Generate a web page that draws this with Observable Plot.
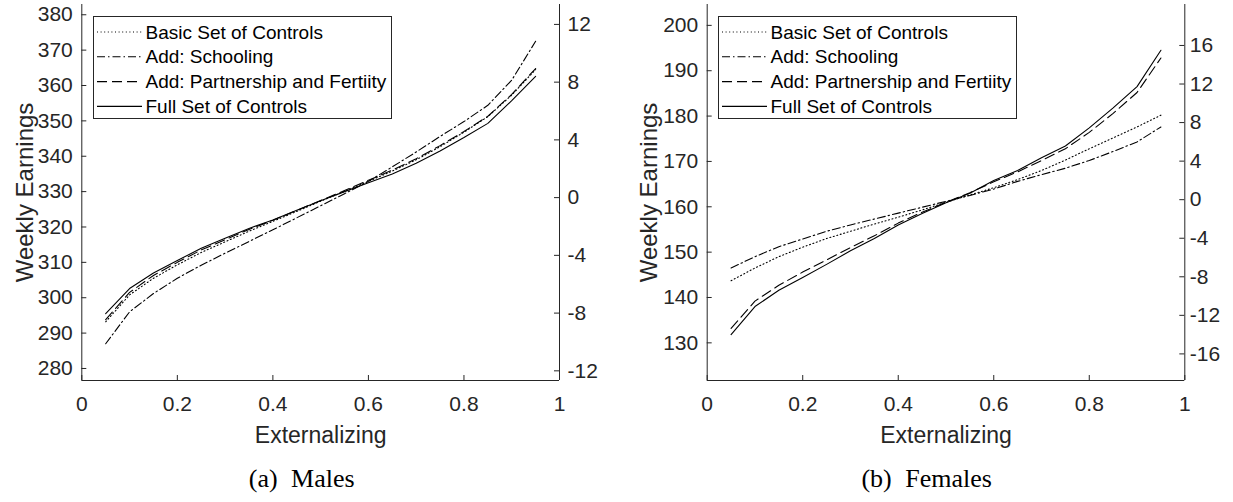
<!DOCTYPE html>
<html><head><meta charset="utf-8">
<script src="https://cdn.jsdelivr.net/npm/d3@7"></script>
<script src="https://cdn.jsdelivr.net/npm/@observablehq/plot@0.6"></script>
<style>
html,body{margin:0;padding:0;background:#fff;}
#wrap{position:relative;width:1233px;height:502px;overflow:hidden;background:#fff;}
.panel{position:absolute;top:0;}
.cap{position:absolute;top:464px;font-family:"Liberation Serif","Times New Roman",serif;font-size:26px;line-height:30px;word-spacing:7px;color:#000;white-space:nowrap;transform:translateX(-50%);}
</style></head><body><div id="wrap"></div>
<script>
// ---- data ----
const xs = [0.05,0.10,0.15,0.20,0.25,0.30,0.35,0.40,0.45,0.50,0.55,0.60,0.65,0.70,0.75,0.80,0.85,0.90,0.95];
const seriesNames = ["Basic Set of Controls","Add: Schooling","Add: Partnership and Fertiity","Full Set of Controls"];

const malesBasic       = [293.2,300.8,305.5,309.3,312.8,315.8,318.8,321.6,324.4,327.3,330.1,332.9,335.8,339.0,342.7,346.8,351.2,357.3,364.5];
const malesSchooling   = [287.0,296.0,301.2,305.5,309.2,312.6,315.9,319.2,322.6,326.0,329.4,332.9,337.0,341.2,345.6,349.8,354.4,361.5,372.5];
const malesPartnership = [293.8,301.5,306.3,310.0,313.5,316.4,319.3,321.9,324.7,327.5,330.3,333.2,336.1,339.3,343.0,347.0,351.3,357.5,364.8];
const malesFull        = [295.5,302.6,307.0,310.5,314.0,316.8,319.6,322.0,324.7,327.4,330.0,332.5,335.0,338.0,341.5,345.3,349.3,355.7,362.6];

const femalesBasic       = [143.7,146.5,149.0,151.1,153.0,154.6,156.2,157.7,159.3,161.0,162.6,164.2,166.0,168.0,170.3,172.8,175.2,177.6,180.2];
const femalesSchooling   = [146.5,149.0,151.2,152.9,154.6,156.0,157.3,158.6,159.9,161.2,162.5,163.9,165.6,167.1,168.5,170.2,172.2,174.3,177.6];
const femalesPartnership = [133.2,139.2,142.7,145.6,148.3,151.0,153.6,156.4,158.8,161.0,163.1,165.5,167.7,170.2,172.8,176.4,180.6,185.2,192.8];
const femalesFull        = [131.8,138.0,141.6,144.4,147.3,150.3,153.0,156.0,158.5,160.9,163.0,165.8,168.0,170.8,173.4,177.4,181.8,186.5,194.5];

const xTicks = [0,0.2,0.4,0.6,0.8,1];
const malesYTicks = [280,290,300,310,320,330,340,350,360,370,380];
const malesRTicks = [-12,-8,-4,0,4,8,12];
const femalesYTicks = [130,140,150,160,170,180,190,200];
const femalesRTicks = [-16,-12,-8,-4,0,4,8,12,16];

const malesYDomain = [276.6, 382.9];
const malesRDomain = [-12.67, 13.38];
const femalesYDomain = [121.7, 204.6];
const femalesRDomain = [-18.76, 20.25];

const captions = ["(a) Males", "(b) Females"];
const xLabel = "Externalizing";
const yLabel = "Weekly Earnings";

// ---- styles ----
const dashStyles = ["1,2.6", "8,3,1.5,3", "10,5", null];
const axisColor = "#262626";

function panel({yDomain, yTicks, rDomain, rTicks, values, mLeft, mRight, width, rPad, yLabelDx}) {
  const H = 440, mTop = 4, mBottom = 60;
  const plotW = width - mLeft - mRight, plotH = H - mTop - mBottom;
  const toLeft = d3.scaleLinear().domain(rDomain).range(yDomain);
  const lineMarks = values.map((vals, k) => {
    const rows = vals.map((v, i) => ({x: xs[i], y: v, s: seriesNames[k]}));
    return Plot.line(rows, {x: "x", y: "y", stroke: "#000", strokeWidth: 1.1, strokeDasharray: dashStyles[k] ?? undefined});
  });
  const rPos = rTicks.map(r => toLeft(r));
  return Plot.plot({
    width, height: H, marginLeft: mLeft, marginRight: mRight, marginTop: mTop, marginBottom: mBottom,
    style: {fontFamily: "'Liberation Sans', Arial, sans-serif", fontSize: "21px", color: axisColor, background: "transparent", overflow: "visible"},
    x: {domain: [0, 1], axis: null},
    y: {domain: yDomain, axis: null},
    marks: [
      ...lineMarks,
      Plot.ruleX([0, 1], {stroke: axisColor, strokeWidth: 1}),
      Plot.ruleY([yDomain[0]], {stroke: axisColor, strokeWidth: 1}),
      Plot.tickX(xTicks, {x: d => d, insetTop: plotH - 5, stroke: axisColor}),
      Plot.tickY(yTicks, {y: d => d, insetRight: plotW - 5, stroke: axisColor}),
      Plot.tickY(rPos, {y: d => d, insetLeft: plotW - 5, stroke: axisColor}),
      Plot.axisX(xTicks, {tickSize: 0, tickPadding: 16, tickFormat: d => String(d), label: null}),
      Plot.axisY(yTicks, {anchor: "left", tickSize: 0, tickPadding: 9, label: null, tickFormat: d => String(d)}),
      Plot.axisY(rPos, {anchor: "right", tickSize: 0, tickPadding: rPad, label: null, tickFormat: d => String(Math.round(toLeft.invert(d)))}),
      Plot.text([xLabel], {text: d => d, frameAnchor: "bottom", dy: 55, lineAnchor: "middle", textAnchor: "middle", fontSize: 23, fill: axisColor}),
      Plot.text([yLabel], {text: d => d, frameAnchor: "left", dx: yLabelDx, rotate: -90, lineAnchor: "middle", textAnchor: "middle", fontSize: 24, fill: axisColor})
    ]
  });
}

function legend(left, top) {
  const W = 299, Hh = 103;
  const svg = d3.create("svg").attr("width", W).attr("height", Hh)
    .style("position", "absolute").style("left", left + "px").style("top", top + "px");
  svg.append("rect").attr("x", 0.5).attr("y", 0.5).attr("width", W - 1).attr("height", Hh - 1)
    .attr("fill", "#fff").attr("stroke", axisColor).attr("stroke-width", 1);
  seriesNames.forEach((n, i) => {
    const cy = 16 + i * 24.8;
    const ln = svg.append("line").attr("x1", 4).attr("x2", 49).attr("y1", cy).attr("y2", cy)
      .attr("stroke", "#000").attr("stroke-width", 1.1);
    if (dashStyles[i]) ln.attr("stroke-dasharray", dashStyles[i]);
    svg.append("text").attr("x", 52.5).attr("y", cy).attr("dy", "0.35em")
      .attr("font-family", "'Liberation Sans', Arial, sans-serif").attr("font-size", 19).attr("fill", "#000").text(n);
  });
  return svg.node();
}

const wrap = document.getElementById("wrap");

const left = panel({
  yDomain: malesYDomain, yTicks: malesYTicks, rDomain: malesRDomain, rTicks: malesRTicks,
  values: [malesBasic, malesSchooling, malesPartnership, malesFull],
  mLeft: 81.3, mRight: 57, width: 616, rPad: 8, yLabelDx: -56
});
left.classList.add("panel"); left.style.left = "0px";
wrap.appendChild(left);

const right = panel({
  yDomain: femalesYDomain, yTicks: femalesYTicks, rDomain: femalesRDomain, rTicks: femalesRTicks,
  values: [femalesBasic, femalesSchooling, femalesPartnership, femalesFull],
  mLeft: 90.7, mRight: 48.7, width: 617, rPad: 5, yLabelDx: -58
});
right.classList.add("panel"); right.style.left = "616px";
wrap.appendChild(right);

wrap.appendChild(legend(93, 15.5));
wrap.appendChild(legend(718.3, 15.5));

[[captions[0], 301.7], [captions[1], 926.7]].forEach(([t, cx]) => {
  const d = document.createElement("div");
  d.className = "cap"; d.style.left = cx + "px"; d.textContent = t;
  wrap.appendChild(d);
});
</script></body></html>
